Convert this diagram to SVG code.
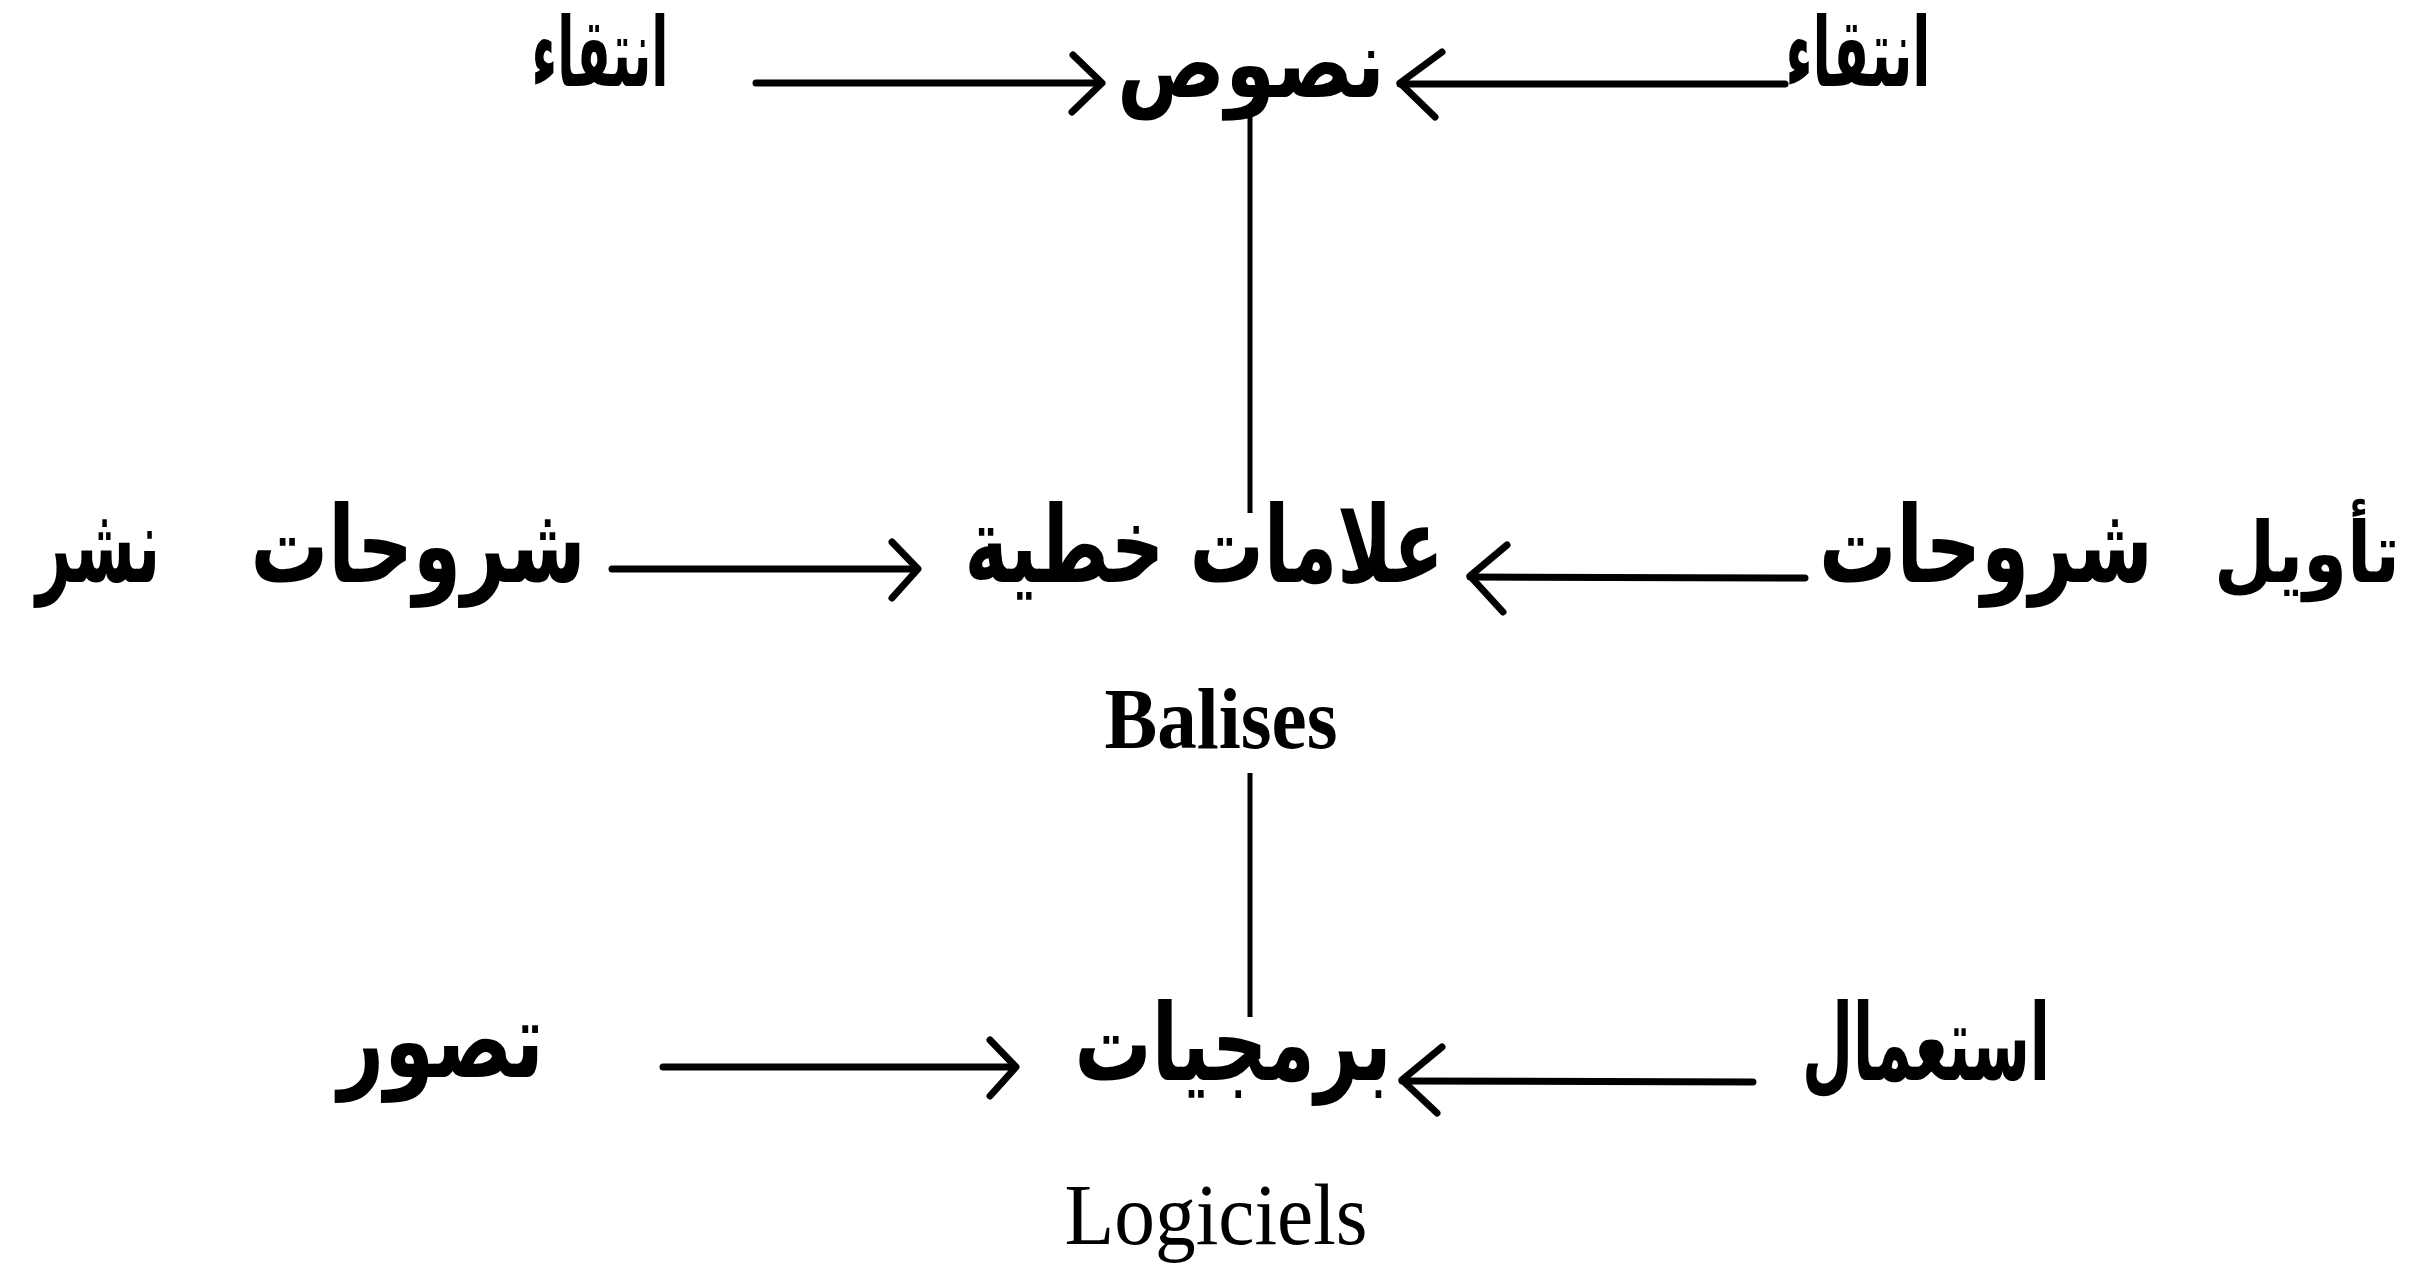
<svg xmlns="http://www.w3.org/2000/svg" width="2433" height="1271" viewBox="0 0 2433 1271">
<style>
.ar{font-family:"DejaVu Sans","Noto Sans",sans-serif;font-weight:bold;font-size:106px;fill:#000;text-anchor:middle}
.top{font-size:96px}
.sm{font-size:84px}
.la{font-family:"Liberation Serif","Times New Roman",serif;font-size:86px;fill:#000;text-anchor:middle}
.ln{stroke:#000;stroke-width:7;fill:none;stroke-linecap:round;stroke-linejoin:round}
.vl{stroke:#000;stroke-width:5;fill:none}
</style>
<rect width="2433" height="1271" fill="#fff"/>
<g id="connectors">
<path class="ln" d="M756,83 L1100,83"/>
<path class="ln" d="M1073,55 L1102,83 L1072,112"/>
<path class="ln" d="M1400,84 L1785,84"/>
<path class="ln" d="M1442,52 L1400,83 L1435,117"/>
<path class="vl" d="M1250,110 L1250,513"/>
<path class="ln" d="M612,569 L916,569"/>
<path class="ln" d="M892,542 L918,569 L892,598"/>
<path class="ln" d="M1470,577 L1805,578"/>
<path class="ln" d="M1507,545 L1470,576 L1503,612"/>
<path class="vl" d="M1250,773 L1250,1017"/>
<path class="ln" d="M663,1067 L1014,1067"/>
<path class="ln" d="M990,1040 L1016,1067 L990,1096"/>
<path class="ln" d="M1402,1081 L1753,1082"/>
<path class="ln" d="M1442,1047 L1402,1080 L1437,1113"/>
</g>
<g id="n-intiqa-left"><text class="ar top" x="600" y="86" textLength="137" lengthAdjust="spacingAndGlyphs">انتقاء</text></g>
<g id="n-nusus"><text class="ar top" x="1251" y="97" textLength="268" lengthAdjust="spacingAndGlyphs">نصوص</text></g>
<g id="n-intiqa-right"><text class="ar top" x="1858" y="86" textLength="145" lengthAdjust="spacingAndGlyphs">انتقاء</text></g>
<g id="n-nashr"><text class="ar" x="98" y="582" textLength="124" lengthAdjust="spacingAndGlyphs">نشر</text></g>
<g id="n-shuruhat-left"><text class="ar" x="418" y="582" textLength="335" lengthAdjust="spacingAndGlyphs">شروحات</text></g>
<g id="n-alamat"><text class="ar" x="1204" y="582" textLength="479" lengthAdjust="spacingAndGlyphs">علامات خطية</text>
<text class="la" x="1221" y="748" font-weight="bold" textLength="233" lengthAdjust="spacingAndGlyphs">Balises</text></g>
<g id="n-shuruhat-right"><text class="ar" x="1986" y="582" textLength="334" lengthAdjust="spacingAndGlyphs">شروحات</text></g>
<g id="n-tawil"><text class="ar sm" x="2307" y="582" textLength="186" lengthAdjust="spacingAndGlyphs">تأويل</text></g>
<g id="n-tasawwur"><text class="ar" x="441" y="1077" textLength="206" lengthAdjust="spacingAndGlyphs">تصور</text></g>
<g id="n-barmajiyat"><text class="ar" x="1233" y="1080" textLength="317" lengthAdjust="spacingAndGlyphs">برمجيات</text>
<text class="la" x="1216" y="1244" textLength="303" lengthAdjust="spacingAndGlyphs">Logiciels</text></g>
<g id="n-istimal"><text class="ar" x="1926" y="1080" textLength="248" lengthAdjust="spacingAndGlyphs">استعمال</text></g>
</svg>
